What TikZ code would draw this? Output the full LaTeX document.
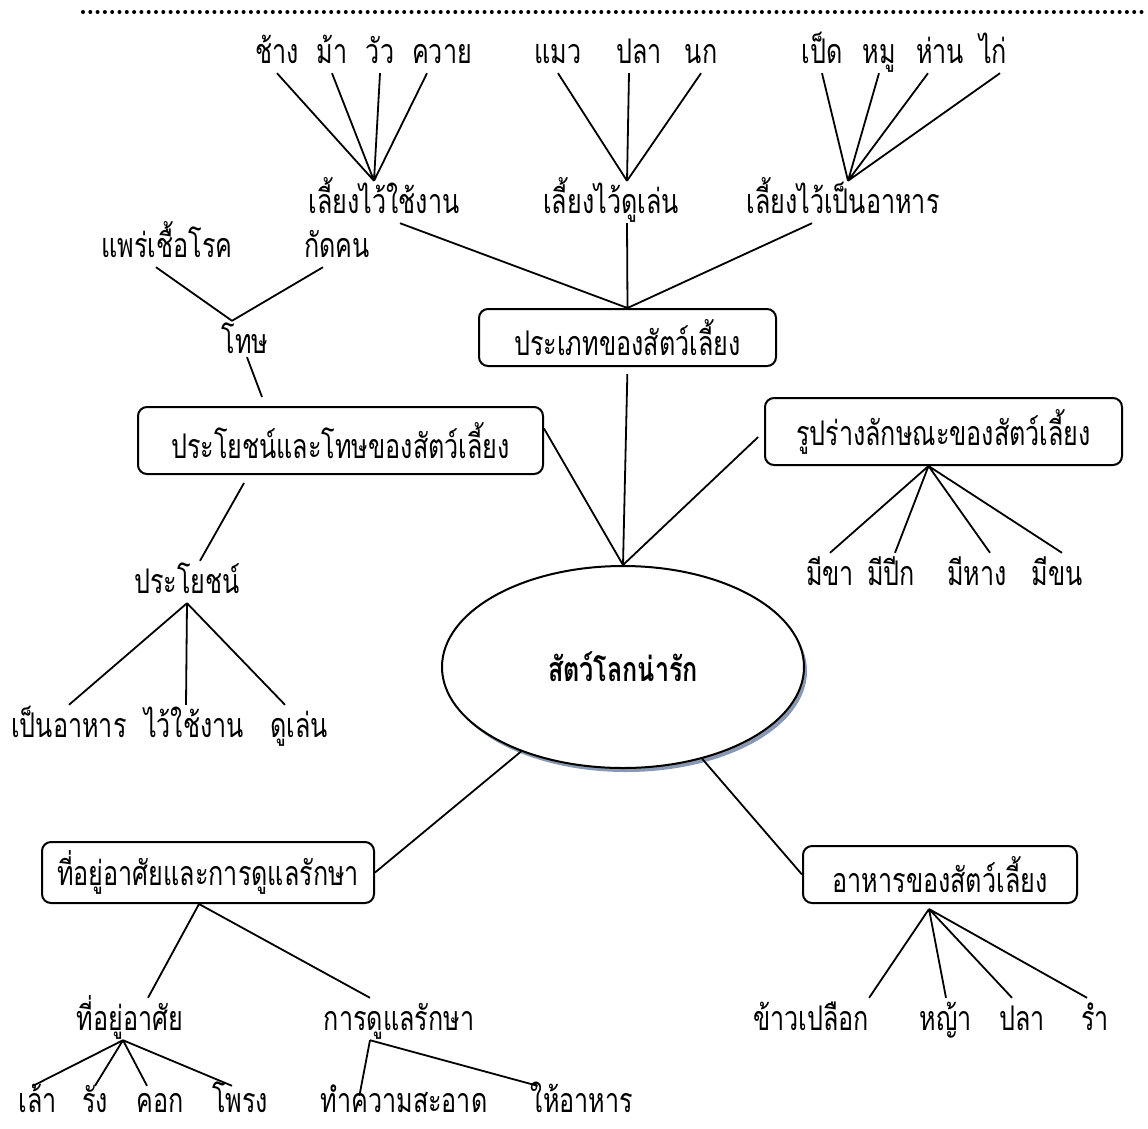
\documentclass[tikz,border=0pt]{standalone}
\usepackage{fontspec}
\newfontfamily\thaifont[Script=Thai,FakeStretch=0.74]{Loma}
\usetikzlibrary{calc,shapes.geometric,shadows}
\definecolor{shadowblue}{RGB}{137,152,178}
\tikzset{
  lbl/.style={inner sep=0pt,anchor=base,text height=32pt,text depth=10pt},
  lastrow/.style={lbl,text height=26pt,text depth=4pt},
  topic/.style={draw,line width=2pt,rounded corners=9pt,inner sep=0pt},
  link/.style={line width=1.8pt},
}

\begin{document}
\begin{tikzpicture}[x=1pt,y=-1pt,font=\thaifont\fontsize{34}{40}\selectfont]
  \useasboundingbox (0,0) rectangle (1148,1128);
  \draw[line width=4pt,line cap=round,dash pattern=on 0pt off 7.3pt] (83,12) -- (1148,12);

  \node[lbl] (chang) at (277,63) {ช้าง};
  \node[lbl] (ma) at (332,63) {ม้า};
  \node[lbl] (wua) at (380,63) {วัว};
  \node[lbl] (khwai) at (442,63) {ควาย};
  \node[lbl] (maeo) at (558,63) {แมว};
  \node[lbl] (plaA) at (639,63) {ปลา};
  \node[lbl] (nok) at (701,63) {นก};
  \node[lbl] (pet) at (822,63) {เป็ด};
  \node[lbl] (mu) at (879,63) {หมู};
  \node[lbl] (han) at (940,63) {ห่าน};
  \node[lbl] (kai) at (993,63) {ไก่};

  \node[lbl] (work) at (384,213) {เลี้ยงไว้ใช้งาน};
  \node[lbl] (play) at (611,213) {เลี้ยงไว้ดูเล่น};
  \node[lbl] (eat) at (843,213) {เลี้ยงไว้เป็นอาหาร};

  \node[topic,minimum width=297pt,minimum height=57pt] (kinds) at (627.5,337.5) {ประเภทของสัตว์เลี้ยง};

  \node[lbl] (phrae) at (167,257) {แพร่เชื้อโรค};
  \node[lbl] (kat) at (337,257) {กัดคน};
  \node[lbl] (tho) at (245,353) {โทษ};
  \node[topic,minimum width=405pt,minimum height=67pt] (goodbad) at (340.5,440.5) {ประโยชน์และโทษของสัตว์เลี้ยง};
  \node[lbl] (prayot) at (187,593) {ประโยชน์};
  \node[lbl] (asfood) at (69,737) {เป็นอาหาร};
  \node[lbl] (aswork) at (194,737) {ไว้ใช้งาน};
  \node[lbl] (aspet) at (299,737) {ดูเล่น};

  \node[topic,minimum width=357pt,minimum height=67pt] (looks) at (943.5,431.5) {รูปร่างลักษณะของสัตว์เลี้ยง};
  \node[lbl] (legs) at (830,585) {มีขา};
  \node[lbl] (wings) at (891,585) {มีปีก};
  \node[lbl] (tail) at (977,585) {มีหาง};
  \node[lbl] (fur) at (1057,585) {มีขน};

  \node[ellipse,draw,line width=2pt,fill=white,inner sep=0pt,minimum width=362pt,minimum height=202pt,
    drop shadow={shadow xshift=3pt,shadow yshift=-4pt,fill=shadowblue,opacity=1},
    font=\thaifont\bfseries\fontsize{34}{40}\selectfont] (main) at (623,667) {สัตว์โลกน่ารัก};

  \node[topic,minimum width=332pt,minimum height=61pt] (home) at (208,872.5) {ที่อยู่อาศัยและการดูแลรักษา};
  \node[lbl] (dwell) at (130,1030) {ที่อยู่อาศัย};
  \node[lbl] (care) at (399,1030) {การดูแลรักษา};
  \node[lastrow] (lao) at (38,1112) {เล้า};
  \node[lastrow] (rang) at (95,1112) {รัง};
  \node[lastrow] (khok) at (160,1112) {คอก};
  \node[lastrow] (phrong) at (240,1112) {โพรง};
  \node[lastrow] (clean) at (404,1112) {ทำความสะอาด};
  \node[lastrow] (feed) at (582,1112) {ให้อาหาร};

  \node[topic,minimum width=274pt,minimum height=57pt] (fodder) at (940,874.5) {อาหารของสัตว์เลี้ยง};
  \node[lbl] (rice) at (811,1030) {ข้าวเปลือก};
  \node[lbl] (grass) at (946,1030) {หญ้า};
  \node[lbl] (plaB) at (1022,1030) {ปลา};
  \node[lbl] (bran) at (1095,1030) {รำ};

  \coordinate (workHub) at ($(work.north)+(-10,0)$);
  \coordinate (playHub) at ($(play.north)+(16,0)$);
  \coordinate (eatHub) at ($(eat.north)+(5,0)$);
  \coordinate (thoHub) at ($(tho.north)+(-13,0)$);
  \coordinate (looksHub) at ($(looks.south)+(-15,0)$);
  \coordinate (homeHub) at ($(home.south)+(-9,0)$);
  \coordinate (dwellHub) at ($(dwell.south)+(-7,0)$);
  \coordinate (careHub) at ($(care.south)+(-29,0)$);
  \coordinate (fodderHub) at ($(fodder.south)+(-11,5)$);

  \draw[link] (chang.south) -- (workHub) (ma.south) -- (workHub)
    (wua.south) -- (workHub) ($(khwai.south)+(-15,0)$) -- (workHub);
  \draw[link] (maeo.south) -- (playHub) ($(plaA.south)+(-10,0)$) -- (playHub) (nok.south) -- (playHub);
  \draw[link] (pet.south) -- (eatHub) (mu.south) -- (eatHub)
    ($(han.south)+(-12,0)$) -- (eatHub) ($(kai.south)+(7,0)$) -- (eatHub);
  \draw[link] ($(work.south)+(16,0)$) -- (kinds.north) ($(play.south)+(16,0)$) -- (kinds.north)
    ($(eat.south)+(-31,0)$) -- (kinds.north);
  \draw[link,shorten <=7pt] (kinds.south) -- (main.north);

  \draw[link] ($(phrae.south)+(-11,0)$) -- (thoHub) ($(kat.south)+(-14,0)$) -- (thoHub);
  \draw[link] ($(tho.south)+(2,-6)$) -- ($(goodbad.north west)+(125,-9)$);
  \draw[link] ($(goodbad.east)+(0,-12)$) -- (main.north);
  \draw[link] ($(goodbad.south west)+(107,8)$) -- ($(prayot.north)+(13,0)$);
  \draw[link] (prayot.south) -- (asfood.north) (prayot.south) -- ($(aswork.north)+(-8,0)$)
    (prayot.south) -- ($(aspet.north)+(-14,0)$);

  \draw[link,shorten <=8pt] (looks.west) -- (main.north);
  \draw[link] (looksHub) -- (legs.north) (looksHub) -- ($(wings.north)+(4,0)$)
    (looksHub) -- ($(tail.north)+(13,0)$) (looksHub) -- ($(fur.north)+(5,0)$);

  \draw[link] (main) -- (home.east);
  \draw[link] (homeHub) -- ($(dwell.north)+(18,0)$) (homeHub) -- ($(care.north)+(-29,0)$);
  \draw[link] (dwellHub) -- ($(lao.north)+(-5,0)$) (dwellHub) -- (rang.north)
    (dwellHub) -- ($(khok.north)+(-13,0)$) (dwellHub) -- ($(phrong.north)+(-8,0)$);
  \draw[link] (careHub) -- ($(clean.north west)+(39,10)$) (careHub) -- ($(feed.north west)+(7,0)$);

  \draw[link] (main) -- (fodder.west);
  \draw[link] (fodderHub) -- (rice.north east) (fodderHub) -- (grass.north)
    (fodderHub) -- ($(plaB.north)+(-10,0)$) (fodderHub) -- ($(bran.north)+(-8,0)$);
\end{tikzpicture}
\end{document}
